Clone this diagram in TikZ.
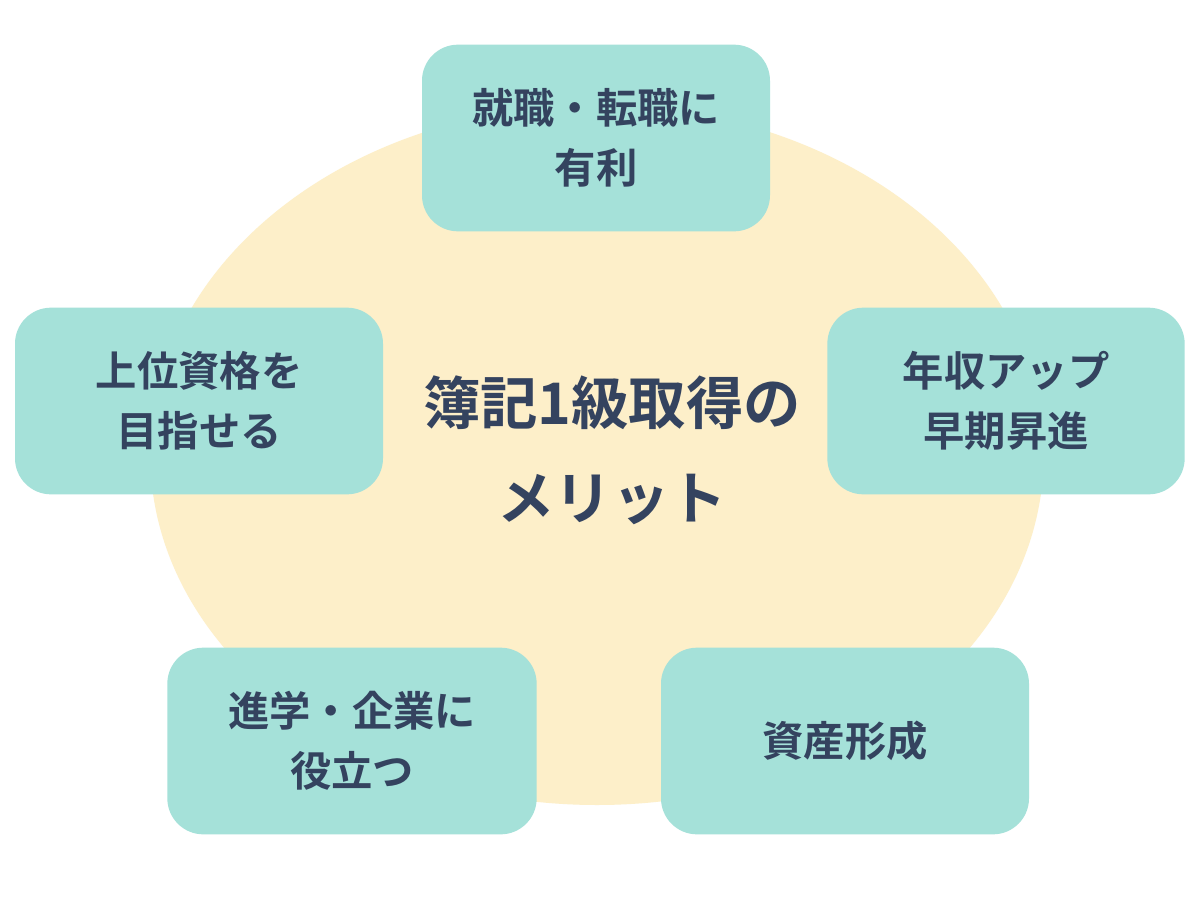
\documentclass[tikz,border=0pt]{standalone}
\usepackage{fontspec}
\setmainfont{Noto Sans CJK JP}[BoldFont={Noto Sans CJK JP Bold}]
\usetikzlibrary{shapes.geometric}
\definecolor{cream}{HTML}{FDEFC9}
\definecolor{mint}{HTML}{A5E1D9}
\definecolor{navy}{HTML}{34435F}

\tikzset{
  merit/.style={rectangle,rounded corners=27pt,fill=mint,minimum height=140pt,
    text=navy,align=center,font=\fontsize{31}{45}\selectfont\bfseries},
  core/.style={text=navy,align=center,font=\fontsize{43}{71}\selectfont\bfseries}
}

\begin{document}
\begin{tikzpicture}[x=0.75pt,y=-0.75pt]
    \useasboundingbox (0,0) rectangle (1200,900);
    \fill[white] (0,0) rectangle (1200,900);

    \node[ellipse,fill=cream,minimum width=670pt,minimum height=525pt] (base) at (597,455) {};
    \node[core] (center) at (612,450) {簿記1級取得の\\メリット};

    \node[merit,minimum width=261pt] (job) at (596,138) {就職・転職に\\有利};
    \node[merit,minimum width=276pt] (rank) at (199,401) {上位資格を\\目指せる};
    \node[merit,minimum width=268pt] (pay) at (1006,401) {年収アップ\\早期昇進};
    \node[merit,minimum width=277pt] (study) at (352,741) {進学・企業に\\役立つ};
    \node[merit,minimum width=276pt] (asset) at (845,741) {資産形成};
\end{tikzpicture}
\end{document}
